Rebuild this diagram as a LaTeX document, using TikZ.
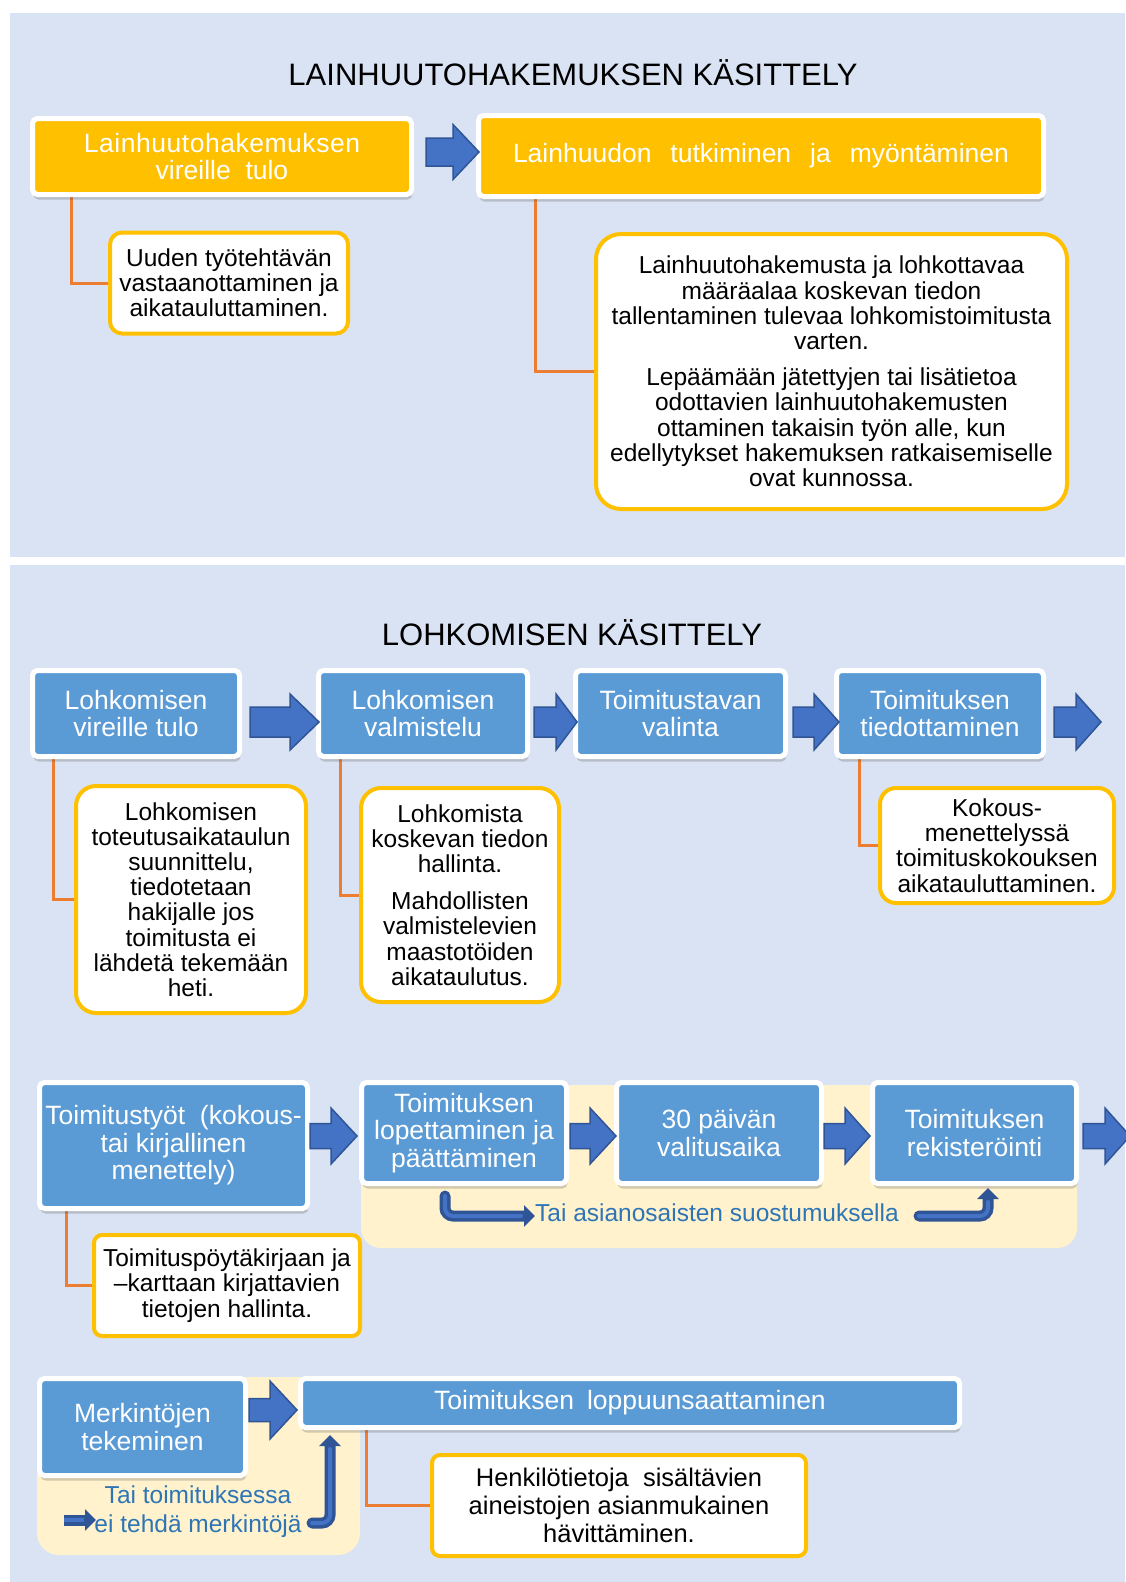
\documentclass[tikz,border=0pt]{standalone}
\usepackage{fontspec}
\setmainfont{Liberation Sans}
\usetikzlibrary{shadows,arrows.meta}
\definecolor{panelbg}{HTML}{DAE3F3}
\definecolor{boxblue}{HTML}{5B9BD5}
\definecolor{gold}{HTML}{FFC000}
\definecolor{paleyel}{HTML}{FFF2CC}
\definecolor{arrowblue}{HTML}{4472C4}
\definecolor{arrowdark}{HTML}{2F5597}
\definecolor{orangec}{HTML}{ED7D31}
\definecolor{bluetxt}{HTML}{2E75B6}
\pgfdeclarelayer{back}
\pgfdeclarelayer{bg}
\pgfsetlayers{back,bg,main}
\newcommand\blkarrow[6]{% x1, x2, yc, shaft half, head half, head length
  \draw[blk] (#1,#3-#4) -- (#2-#6,#3-#4) -- (#2-#6,#3-#5) -- (#2,#3) -- (#2-#6,#3+#5) -- (#2-#6,#3+#4) -- (#1,#3+#4) -- cycle;}
\begin{document}
\begin{tikzpicture}[x=1pt,y=-1pt,
  mainbox/.style={draw=white, line width=5pt, rounded corners=5pt, text=white,
    font=\fontsize{26.5}{27.5}\selectfont, align=center, inner sep=0pt,
    drop shadow={opacity=0.25, shadow xshift=1pt, shadow yshift=-5pt, fill=black!70}},
  bluebox/.style={mainbox, fill=boxblue},
  yelbox/.style={mainbox, fill=gold},
  notebox/.style={draw=gold, fill=white, line width=4pt, align=center,
    font=\fontsize{24.5}{25.2}\selectfont, inner sep=0pt, text=black},
  titlef/.style={font=\fontsize{31}{36}\selectfont, text=black, inner sep=0pt},
  conn/.style={draw=orangec, line width=3pt},
  blk/.style={fill=arrowblue, draw=arrowdark, line width=1.5pt, line join=miter},
  bent/.style={draw=arrowdark, line width=11pt, rounded corners=8pt, line cap=round,
    -{Triangle[length=11pt,width=21pt]}},
  benthl/.style={draw=arrowblue, line width=4pt, rounded corners=8pt, line cap=round},
  bluenote/.style={text=bluetxt, font=\fontsize{24.5}{29}\selectfont, inner sep=0pt, align=center}
]
\useasboundingbox (0,0) rectangle (1125,1582);
\begin{pgfonlayer}{back}
\fill[white] (0,0) rectangle (1125,1582);
\fill[panelbg] (10,13) rectangle (1125,557);
\fill[panelbg] (10,565) rectangle (1125,1582);
\fill[paleyel, rounded corners=20pt] (361,1085) rectangle (1077,1248);
\fill[paleyel, rounded corners=22pt] (37,1377) rectangle (360,1555);
\end{pgfonlayer}

% ---------- top panel ----------
\node[titlef] (T1) at (573,73) {LAINHUUTOHAKEMUKSEN KÄSITTELY};
\node[yelbox, minimum width=379, minimum height=76] (Y1) at (222,156.5) {\addfontfeature{LetterSpace=2}Lainhuutohakemuksen\\vireille~~tulo};
\node[yelbox, minimum width=565, minimum height=81] (Y2) at (761,156) {Lainhuudon\hspace{19pt}tutkiminen\hspace{19pt}ja\hspace{19pt}myöntäminen};
\blkarrow{426}{479}{152}{14}{27.5}{26}
\node[notebox, minimum width=238, minimum height=101, rounded corners=12pt] (N1) at (229,283)
  {Uuden työtehtävän\\vastaanottaminen ja\\aikatauluttaminen.};
\node[notebox, minimum width=471, minimum height=275, rounded corners=25pt] (N2) at (831.5,371.5)
  {Lainhuutohakemusta ja lohkottavaa\\määräalaa koskevan tiedon\\tallentaminen tulevaa lohkomistoimitusta\\varten.\\[11pt]
   Lepäämään jätettyjen tai lisätietoa\\odottavien lainhuutohakemusten\\ottaminen takaisin työn alle, kun\\edellytykset hakemuksen ratkaisemiselle\\ovat kunnossa.};
\begin{pgfonlayer}{bg}
\draw[conn] (Y1.south -| 71,0) |- (N1.west);
\draw[conn] (Y2.south -| 535,0) |- (N2.west);
\end{pgfonlayer}

% ---------- bottom panel ----------
\node[titlef] (T2) at (572,633) {LOHKOMISEN KÄSITTELY};
% row 1
\node[bluebox, minimum width=207, minimum height=86] (B1) at (136,713.5) {Lohkomisen\\vireille tulo};
\node[bluebox, minimum width=209, minimum height=86] (B2) at (423,713.5) {Lohkomisen\\valmistelu};
\node[bluebox, minimum width=210, minimum height=86] (B3) at (680.5,713.5) {Toimitustavan\\valinta};
\node[bluebox, minimum width=207, minimum height=86] (B4) at (940,713.5) {Toimituksen\\tiedottaminen};
\blkarrow{250}{319}{722}{15}{28}{29}
\blkarrow{534}{577}{722}{15}{28}{21}
\blkarrow{793}{839}{722}{15}{28}{25}
\blkarrow{1054}{1101}{722}{15}{28}{25}
\node[notebox, minimum width=230, minimum height=227, rounded corners=20pt] (R1) at (191,899.5)
  {Lohkomisen\\toteutusaikataulun\\suunnittelu,\\tiedotetaan\\hakijalle jos\\toimitusta ei\\lähdetä tekemään\\heti.};
\node[notebox, minimum width=198, minimum height=214, rounded corners=20pt] (R2) at (460,895)
  {Lohkomista\\koskevan tiedon\\hallinta.\\[12pt]Mahdollisten\\valmistelevien\\maastotöiden\\aikataulutus.};
\node[notebox, minimum width=234, minimum height=115, rounded corners=16pt] (R4) at (997,845.5)
  {Kokous-\\menettelyssä\\toimituskokouksen\\aikatauluttaminen.};
\begin{pgfonlayer}{bg}
\draw[conn] (B1.south -| 53,0) |- (R1.west);
\draw[conn] (B2.south -| 340,0) |- (R2.west);
\draw[conn] (B4.south -| 859,0) |- (R4.west);
\end{pgfonlayer}

% row 2
\node[bluebox, minimum width=268, minimum height=126] (B5) at (173.5,1145.5) {Toimitustyöt~~(kokous-\\tai kirjallinen\\menettely)};
\node[bluebox, minimum width=205, minimum height=101] (B6) at (464,1133) {Toimituksen\\lopettaminen ja\\päättäminen};
\node[bluebox, minimum width=205, minimum height=101] (B7) at (719,1133) {30 päivän\\valitusaika};
\node[bluebox, minimum width=204, minimum height=101] (B8) at (974.5,1133) {Toimituksen\\rekisteröinti};
\blkarrow{310}{357}{1136}{12.5}{28}{26}
\blkarrow{570}{616}{1136}{12.5}{28}{26}
\blkarrow{824}{870}{1136}{12.5}{28}{25}
\blkarrow{1083}{1130}{1136}{12.5}{28}{25}
\coordinate (bs1) at (445,1196);
\coordinate (be1) at (535,1216);
\draw[bent] (bs1) |- (be1);
\draw[benthl] (bs1) |- ([xshift=-14pt]be1);
\node[bluenote, anchor=west] (TA) at (535,1213) {Tai asianosaisten suostumuksella};
\coordinate (bs2) at (919,1216);
\coordinate (be2) at (988,1188);
\draw[bent] (bs2) -| (be2);
\draw[benthl] (bs2) -| ([yshift=-14pt]be2);
\node[notebox, minimum width=266, minimum height=101, rounded corners=8pt] (R5) at (227,1285.5)
  {Toimituspöytäkirjaan ja\\–karttaan kirjattavien\\tietojen hallinta.};
\begin{pgfonlayer}{bg}
\draw[conn] (B5.south -| 66,0) |- (R5.west);
\end{pgfonlayer}

% row 3
\node[bluebox, minimum width=206, minimum height=97] (B9) at (142.5,1427) {Merkintöjen\\tekeminen};
\node[bluebox, minimum width=659, minimum height=49] (B10) at (630,1403) {Toimituksen\hspace{13pt}loppuunsaattaminen};
\blkarrow{249}{297}{1410}{11.5}{29}{27}
\node[bluenote] (TT) at (198,1512) {Tai toimituksessa\\ei tehdä merkintöjä};
\coordinate (bs3) at (64,1520);
\coordinate (be3) at (96,1520);
\draw[bent, line cap=butt] (bs3) -- (be3);
\draw[benthl, line cap=butt] (bs3) -- ([xshift=-12pt]be3);
\coordinate (bs4) at (312,1523);
\coordinate (be4) at (330,1435);
\draw[bent] (bs4) -| (be4);
\draw[benthl] (bs4) -| ([yshift=-14pt]be4);
\node[notebox, minimum width=374, minimum height=101, rounded corners=8pt,
  font=\fontsize{25.5}{27.8}\selectfont] (R10) at (619,1505.5)
  {Henkilötietoja~~sisältävien\\aineistojen asianmukainen\\hävittäminen.};
\begin{pgfonlayer}{bg}
\draw[conn] (B10.south -| 366,0) |- (R10.west);
\end{pgfonlayer}
\end{tikzpicture}
\end{document}
